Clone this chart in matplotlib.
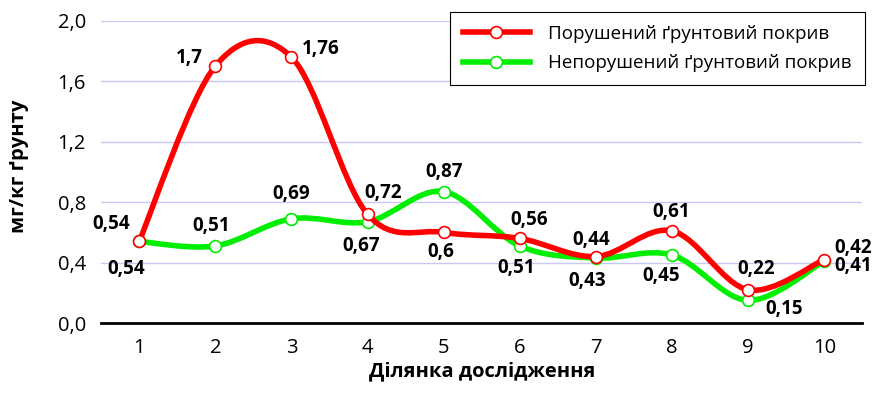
"""Вміст у ґрунті на ділянках дослідження: порушений та непорушений покрив."""
import matplotlib.pyplot as plt
import numpy as np
from matplotlib.lines import Line2D
from matplotlib.patches import PathPatch
from matplotlib.path import Path

plt.rcParams['font.family'] = ['Open Sans', 'DejaVu Sans']

sites = [1, 2, 3, 4, 5, 6, 7, 8, 9, 10]
disturbed = [0.54, 1.7, 1.76, 0.72, 0.6, 0.56, 0.44, 0.61, 0.22, 0.42]
undisturbed = [0.54, 0.51, 0.69, 0.67, 0.87, 0.51, 0.43, 0.45, 0.15, 0.41]
y_ticks = [0.0, 0.4, 0.8, 1.2, 1.6, 2.0]

# зсуви підписів значень, пікселі (dx, dy вгору)
disturbed_offsets = [(-28, 17), (-26, 8), (29, 8), (16, 21), (-3, -20),
                     (9, 18), (-5, 17), (-1, 19), (8, 21), (29, 12)]
undisturbed_offsets = [(-13, -28), (-4, 20), (0, 25), (-6, -24), (0, 20),
                       (-4, -22), (-9, -23), (-11, -21), (36, -9), (29, -5)]

RED = '#ff0000'
GREEN = '#00ee00'


def smooth_path(x, y):
    """Згладжена крива через точки (Безьє, як у Excel)."""
    pts = np.column_stack([x, y]).astype(float)
    padded = np.vstack([pts[0], pts, pts[-1]])
    verts = [pts[0]]
    codes = [Path.MOVETO]
    for i in range(len(pts) - 1):
        p0, p1, p2, p3 = padded[i], padded[i + 1], padded[i + 2], padded[i + 3]
        verts += [p1 + (p2 - p0) / 6, p2 - (p3 - p1) / 6, p2]
        codes += [Path.CURVE4] * 3
    return Path(verts, codes)


fig = plt.figure(figsize=(8.79, 3.93), dpi=100)
ax = fig.add_axes([0.115, 0.178, 0.866, 0.769])

for values, offsets, color, z in [(undisturbed, undisturbed_offsets, GREEN, 3),
                                  (disturbed, disturbed_offsets, RED, 4)]:
    ax.add_patch(PathPatch(smooth_path(sites, values), facecolor='none',
                           edgecolor=color, lw=4.0, capstyle='round', zorder=z))
    ax.plot(sites, values, ls='none', marker='o', ms=8.5, mfc='white',
            mec=color, mew=1.2, zorder=z + 0.5)
    for x, v, (dx, dy) in zip(sites, values, offsets):
        ax.annotate(f'{v:g}'.replace('.', ','), (x, v), xytext=(dx, dy),
                    textcoords='offset pixels', ha='center', va='center',
                    fontsize=13.5, fontweight='bold', zorder=6)

ax.set_xlim(0.5, 10.5)
ax.set_ylim(0, 2.0)
ax.set_xticks(sites)
ax.set_yticks(y_ticks)
ax.set_yticklabels([f'{t:.1f}'.replace('.', ',') for t in y_ticks])
ax.tick_params(length=0, labelsize=14.5)
ax.tick_params(axis='y', pad=11)
ax.tick_params(axis='x', pad=11)
ax.grid(axis='y', color='#c8c8f2', lw=1)
ax.set_axisbelow(True)
for side in ['top', 'right', 'left']:
    ax.spines[side].set_visible(False)
ax.spines['bottom'].set_linewidth(2)
ax.spines['bottom'].set_zorder(2)

ax.set_xlabel('Ділянка дослідження', fontsize=14.5, fontweight='bold', labelpad=2)
ax.set_ylabel('мг/кг ґрунту', fontsize=14.5, fontweight='bold')
ax.yaxis.set_label_coords(-0.095, 0.52)

handles = [
    Line2D([], [], color=RED, lw=4.0, marker='o', ms=8.5, mfc='white', mec=RED, mew=1.2),
    Line2D([], [], color=GREEN, lw=4.0, marker='o', ms=8.5, mfc='white', mec=GREEN, mew=1.2),
]
leg = ax.legend(handles, ['Порушений ґрунтовий покрив', 'Непорушений ґрунтовий покрив'],
                loc='upper right', bbox_to_anchor=(1.003, 1.03), fontsize=13.5,
                handlelength=3.6, frameon=True, fancybox=False, framealpha=1,
                edgecolor='black', borderpad=0.7, labelspacing=0.6, handletextpad=0.95,
                borderaxespad=0)
leg.get_frame().set_linewidth(0.8)

fig.savefig('out.png', dpi=100)
